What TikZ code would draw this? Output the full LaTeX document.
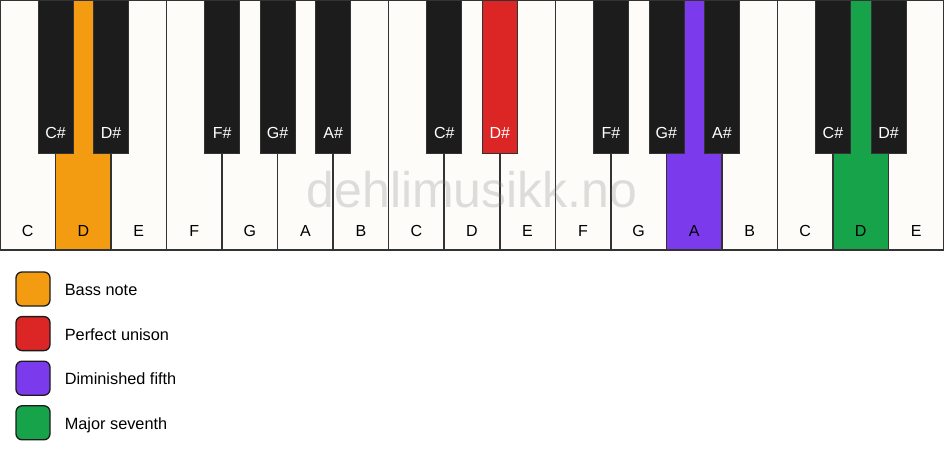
\documentclass[tikz,border=0pt]{standalone}
\usepackage{fontspec}
\setmainfont{Liberation Sans}
\usetikzlibrary{positioning}
\definecolor{keyline}{HTML}{333333}
\definecolor{ivory}{HTML}{FDFCF9}
\definecolor{ebony}{HTML}{1C1C1C}
\definecolor{bass}{HTML}{F39C12}
\definecolor{unison}{HTML}{DC2626}
\definecolor{fifth}{HTML}{7C3AED}
\definecolor{seventh}{HTML}{16A34A}
\definecolor{wmgray}{HTML}{808080}
\begin{document}
\begin{tikzpicture}[x=1pt,y=-1pt,
        whitekey/.style={draw=keyline, line width=1.5pt, anchor=north west, inner sep=0pt, outer sep=0pt,
                minimum width=55.53pt, minimum height=250pt},
        blackkey/.style={draw=keyline, line width=0.6pt, anchor=north, inner sep=0pt, outer sep=0pt,
                minimum width=35pt, minimum height=153pt},
        keytext/.style={anchor=base, inner sep=0pt, font=\fontsize{16}{19}\selectfont},
        legendbox/.style={draw=ebony, line width=1.3pt, rounded corners=6pt, minimum size=34pt, inner sep=0pt},
        legendtext/.style={anchor=west, inner sep=0pt, text height=13pt, text depth=0pt, font=\fontsize{16.3}{19}\selectfont}]
        \useasboundingbox (0,0) rectangle (944,461);
        \fill [white] (0,0) rectangle (944,461);
        % white keys
        \foreach \n/\c [count=\i from 0] in {C/ivory,D/bass,E/ivory,F/ivory,G/ivory,A/ivory,B/ivory,
                C/ivory,D/ivory,E/ivory,F/ivory,G/ivory,A/fifth,B/ivory,C/ivory,D/seventh,E/ivory}
        {
                \node [whitekey, fill=\c] (w\i) at (55.53*\i,0) {};
                \node [keytext] (lw\i) at (55.53*\i+27.76,236) {\n};
        }
        \node [anchor=base, text=wmgray, text opacity=0.25, font=\fontsize{50}{60}\selectfont] (wm) at (472,207) {dehlimusikk.no};
        % black keys
        \foreach \k/\n/\c in {1/C\#/ebony,2/D\#/ebony,4/F\#/ebony,5/G\#/ebony,6/A\#/ebony,
                8/C\#/ebony,9/D\#/unison,11/F\#/ebony,12/G\#/ebony,13/A\#/ebony,15/C\#/ebony,16/D\#/ebony}
        {
                \node [blackkey, fill=\c] (b\k) at (55.53*\k,0) {};
                \node [keytext, text=white] (lb\k) at (55.53*\k,138) {\n};
        }
        % legend
        \foreach \c/\t [count=\i from 0] in {bass/Bass note,unison/Perfect unison,fifth/Diminished fifth,seventh/Major seventh}
        {
                \node [legendbox, fill=\c] (g\i) at (33,289+44.6*\i) {};
                \node [legendtext, right=14pt of g\i] (t\i) {\t};
        }
\end{tikzpicture}
\end{document}
